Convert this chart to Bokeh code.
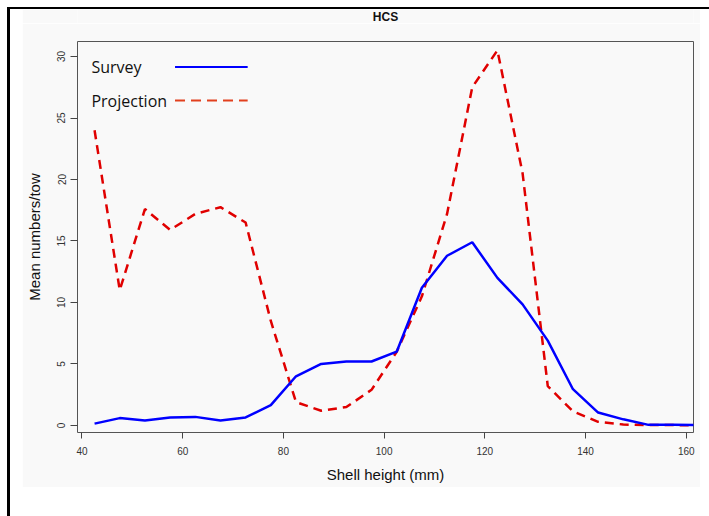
from bokeh.plotting import figure
from bokeh.layouts import column
from bokeh.models import Label, FixedTicker, Range1d
from bokeh.embed import file_html
from bokeh.resources import INLINE

# Shell height class midpoints (mm)
shell_height = [42.5, 47.5, 52.5, 57.5, 62.5, 67.5, 72.5, 77.5, 82.5, 87.5,
                92.5, 97.5, 102.5, 107.5, 112.5, 117.5, 122.5, 127.5, 132.5,
                137.5, 142.5, 147.5, 152.5, 157.5, 162.5]

# Mean numbers per tow, survey observations
survey = [0.15, 0.6, 0.4, 0.65, 0.7, 0.4, 0.65, 1.65, 4.0, 5.0,
          5.2, 5.2, 6.0, 11.2, 13.8, 14.9, 12.0, 9.85, 6.9,
          2.95, 1.05, 0.5, 0.05, 0.05, 0.03]

# Mean numbers per tow, projected
projection = [24.0, 11.0, 17.6, 15.9, 17.2, 17.75, 16.5, 8.5, 1.9, 1.2,
              1.5, 2.9, 6.0, 10.5, 17.2, 27.5, 30.5, 20.5, 3.2,
              1.15, 0.3, 0.08, 0.03, 0.03, 0.01]

x_ticks = [40, 60, 80, 100, 120, 140, 160]
y_ticks = [0, 5, 10, 15, 20, 25, 30]

X0, X1 = 39.11, 161.44
Y0, Y1 = -0.57, 31.22

# grey chart panel, sitting inside a white page with black top/left rules
PANEL_W = 678
TITLE_H = 14
W, H = PANEL_W, 478 - TITLE_H
LEFT, RIGHT, TOP, BOTTOM = 52, 7, 32 - TITLE_H, 55
FW, FH = W - LEFT - RIGHT, H - TOP - BOTTOM

PANEL = "#f9f9f9"
AXIS_FONT = "Liberation Sans"

# title strip above the chart; it shares the chart's x mapping so the
# title sits centred over the plotting frame
head = figure(width=PANEL_W, height=TITLE_H, x_range=Range1d(X0, X1),
              y_range=Range1d(0, TITLE_H), x_axis_type=None, y_axis_type=None,
              min_border_left=LEFT, min_border_right=RIGHT,
              min_border_top=0, min_border_bottom=0,
              output_backend="svg", toolbar_location=None,
              background_fill_color=PANEL, border_fill_color=PANEL,
              outline_line_color=None, margin=(0, 9, 0, 12))
head.grid.visible = False
head.add_layout(Label(x=(X0 + X1) / 2, y=TITLE_H / 2 - 0.5, text="HCS",
                      text_align="center", text_baseline="middle",
                      text_font=AXIS_FONT, text_font_size="12px",
                      text_font_style="bold", text_color="#111111"))

p = figure(width=W, height=H, x_range=Range1d(X0, X1), y_range=Range1d(Y0, Y1),
           min_border_left=LEFT, min_border_right=RIGHT,
           min_border_top=TOP, min_border_bottom=BOTTOM,
           output_backend="svg", toolbar_location=None,
           background_fill_color=PANEL, border_fill_color=PANEL,
           margin=(0, 9, 29, 12))

p.grid.visible = False
p.outline_line_color = "#555555"
p.outline_line_width = 1

for ax in (p.xaxis[0], p.yaxis[0]):
    ax.axis_line_color = None
    ax.major_tick_line_color = "#444444"
    ax.major_tick_in = 0
    ax.minor_tick_line_color = None
    ax.major_label_text_font = AXIS_FONT
    ax.major_label_text_font_size = "10px"
    ax.major_label_text_color = "#333333"
    ax.axis_label_text_font = AXIS_FONT
    ax.axis_label_text_font_size = "15px"
    ax.axis_label_text_font_style = "normal"
    ax.axis_label_text_color = "#111111"

p.xaxis.ticker = FixedTicker(ticks=x_ticks)
p.xaxis.major_tick_out = 6
p.xaxis.major_label_standoff = 8
p.xaxis.axis_label = "Shell height (mm)"
p.xaxis.axis_label_standoff = 8

p.yaxis.ticker = FixedTicker(ticks=y_ticks)
p.yaxis.major_tick_out = 7
p.yaxis.major_label_orientation = "vertical"
p.yaxis.major_label_standoff = 5
p.yaxis.axis_label = "Mean numbers/tow"
p.yaxis.axis_label_standoff = 12

# data series
p.line(shell_height, projection, line_color="#e00000", line_width=2.5,
       line_dash="9 6")
p.line(shell_height, survey, line_color="#0000ff", line_width=2.5)


# legend drawn at fixed pixel positions inside the frame
def px_to_x(px):
    return X0 + (px - LEFT) * (X1 - X0) / FW


def py_to_y(py):
    return Y1 - (py - TOP) * (Y1 - Y0) / FH


legend_rows = [("Survey", "#0000ff", "solid", 57.5 - TITLE_H),
               ("Projection", "#e2401e", "10 6", 91 - TITLE_H)]
for name, color, dash, row_py in legend_rows:
    yv = py_to_y(row_py)
    p.add_layout(Label(x=px_to_x(66), y=yv, text=name, text_align="left",
                       text_baseline="middle", text_font="Open Sans",
                       text_font_size="16px", text_color="#111111"))
    p.line([px_to_x(150), px_to_x(223)], [yv, yv], line_color=color,
           line_width=2.2, line_dash=dash)

page = column(head, p, margin=(7, 0, 0, 7), spacing=0,
              styles={"border-left": "3px solid black",
                      "border-top": "2px solid black",
                      "box-sizing": "content-box",
                      "background-color": "white"})

open("out.html", "w").write(file_html(page, INLINE))
